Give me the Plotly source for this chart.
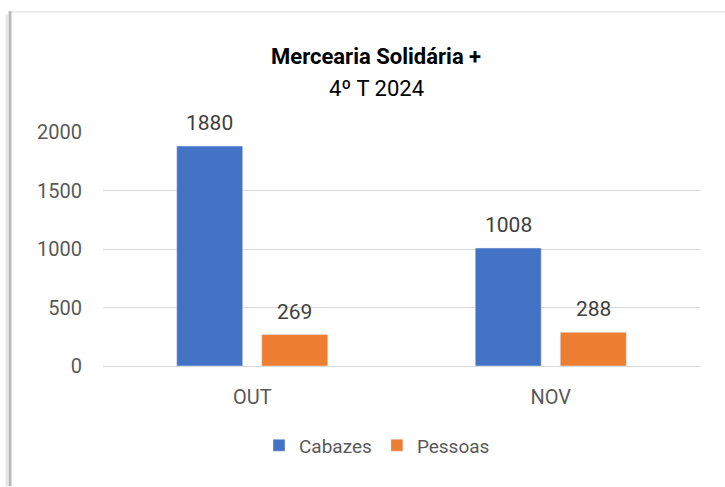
import plotly.graph_objects as go

categories = ["OUT", "NOV"]
cabazes = [1880, 1008]
pessoas = [269, 288]
series_names = ["Cabazes", "Pessoas"]
y_ticks = [0, 500, 1000, 1500, 2000]

BLUE = "#4472C4"
ORANGE = "#ED7D31"
GRAY = "#595959"
FONT = "Roboto, sans-serif"

W, H = 725, 487
L, R, T, B = 103, 25, 132, 120.5
pw = W - L - R
ph = H - T - B

fig = go.Figure()
fig.add_trace(go.Bar(x=categories, y=cabazes, name=series_names[0], marker_color=BLUE,
                     cliponaxis=False))
fig.add_trace(go.Bar(x=categories, y=pessoas, name=series_names[1], marker_color=ORANGE,
                     cliponaxis=False))

for vals, shift in ((cabazes, -42.5), (pessoas, 42.5)):
    for c, v in zip(categories, vals):
        fig.add_annotation(x=c, y=v, xref="x", yref="y", text=str(v), showarrow=False,
                           xshift=shift, yshift=23, yanchor="middle",
                           font=dict(family=FONT, size=21, color="#404040"))

def px(xp):
    return (xp - L) / pw

def py(yp):
    return (H - B - yp) / ph

fig.add_annotation(x=px(376), y=py(56), xref="paper", yref="paper",
                   text="<b>Mercearia Solidária +</b>", showarrow=False,
                   font=dict(family=FONT, size=22, color="#000000"), yanchor="middle")
fig.add_annotation(x=px(376), y=py(88), xref="paper", yref="paper",
                   text="4º T 2024", showarrow=False,
                   font=dict(family=FONT, size=22, color="#000000"), yanchor="middle")

# frame of the screenshot
fig.add_shape(type="line", xref="paper", yref="paper", x0=px(10), x1=px(725), y0=py(11.5), y1=py(11.5),
              line=dict(color="#ececec", width=2))
fig.add_shape(type="line", xref="paper", yref="paper", x0=px(10), x1=px(10), y0=py(11), y1=py(487),
              line=dict(color="#b8b8b8", width=3))
fig.add_shape(type="line", xref="paper", yref="paper", x0=px(7), x1=px(7), y0=py(14), y1=py(487),
              line=dict(color="#e6e6e6", width=3))

fig.update_layout(
    width=W, height=H,
    margin=dict(l=L, r=R, t=T, b=B, autoexpand=False),
    paper_bgcolor="white", plot_bgcolor="white",
    barmode="group", bargap=0.43, bargroupgap=0.224,
    showlegend=True,
    legend=dict(orientation="h", x=px(377), xanchor="center", y=py(446), yanchor="middle",
                font=dict(family=FONT, size=19, color=GRAY), itemwidth=30,
                bgcolor="rgba(0,0,0,0)"),
    font=dict(family=FONT, color=GRAY),
)
fig.update_xaxes(showline=True, linecolor="#d9d9d9", linewidth=1, ticks="",
                 tickfont=dict(family=FONT, size=20, color=GRAY), ticklabelstandoff=13)
fig.update_yaxes(range=[0, 2000], tickvals=y_ticks, showgrid=True, gridcolor="#d9d9d9",
                 gridwidth=1, zeroline=False, showline=False,
                 tickfont=dict(family=FONT, size=20, color=GRAY), ticklabelstandoff=20)

fig.write_html("out.html", config={"displayModeBar": False},
               post_script="document.body.style.margin='0px';")
